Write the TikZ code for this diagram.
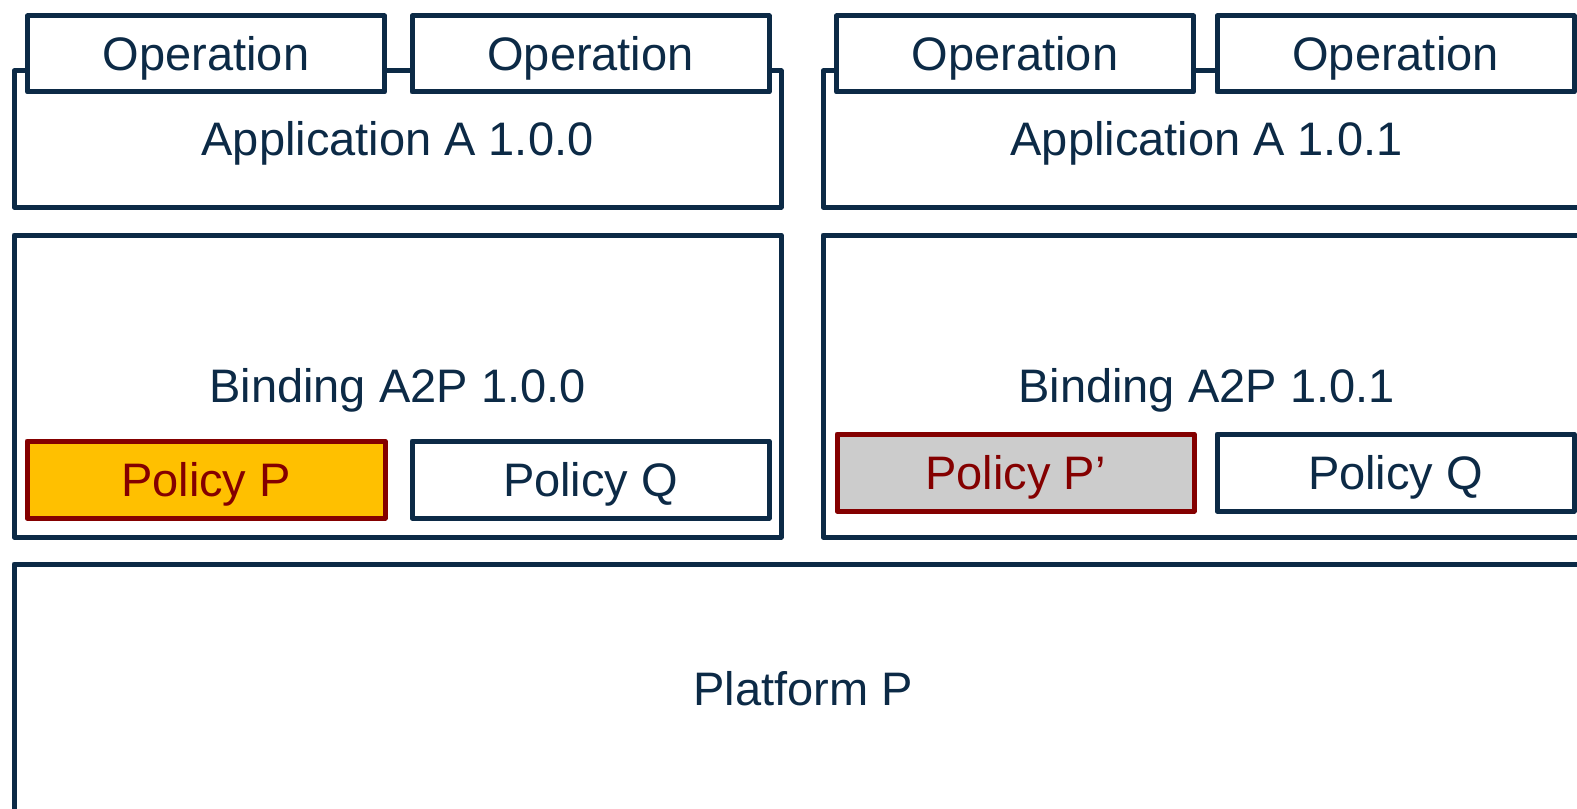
\documentclass[tikz,border=0pt]{standalone}
\usepackage{fontspec}
\setmainfont{Liberation Sans}
\definecolor{navy}{HTML}{0C2A46}
\definecolor{dred}{HTML}{840000}
\definecolor{amber}{HTML}{FFC000}
\definecolor{lgrey}{HTML}{CCCCCC}
\begin{document}
\begin{tikzpicture}[x=0.5pt,y=-0.5pt,
  box/.style={draw=navy,line width=2.5pt,line join=round,fill=white,inner sep=0pt,
    text=navy,font=\fontsize{23.5}{28}\selectfont,text height=16.8pt,text depth=0pt},
  opbox/.style={box,minimum width=178.5pt,minimum height=38pt},
  layer/.style={box,minimum width=383.5pt},
  polnew/.style={box,draw=dred,text=dred,fill=amber,minimum width=179pt,minimum height=38.5pt},
  polchg/.style={box,draw=dred,text=dred,fill=lgrey,minimum width=178.5pt,minimum height=38.5pt},
  polq/.style={box,minimum width=178.5pt,minimum height=38.5pt}]
\useasboundingbox (0,0) rectangle (1577,808);
\clip (0,0) rectangle (1577,808);
% left column
\node[layer,minimum height=68pt] (appA) at (397.5,139) {Application A 1.0.0};
\node[opbox] (op1) at (206,54) {Operation};
\node[opbox] (op2) at (590.5,54) {Operation};
\node[layer,minimum height=151pt] (bindA) at (397.5,386) {Binding A2P 1.0.0};
\node[polnew] (polP) at (206,479.5) {Policy P};
\node[polq] (polQa) at (590.5,479.5) {Policy Q};
% right column
\node[layer,minimum height=68pt] (appB) at (1206.5,139) {Application A 1.0.1};
\node[opbox] (op3) at (1015,54) {Operation};
\node[opbox] (op4) at (1395.5,54) {Operation};
\node[layer,minimum height=151pt] (bindB) at (1206.5,386) {Binding A2P 1.0.1};
\node[polchg] (polPp) at (1015.5,472.5) {Policy P’};
\node[polq] (polQb) at (1395.5,472.5) {Policy Q};
% platform
\node[box,minimum width=789pt,minimum height=125pt] (plat) at (803,689) {Platform P};
\end{tikzpicture}
\end{document}
